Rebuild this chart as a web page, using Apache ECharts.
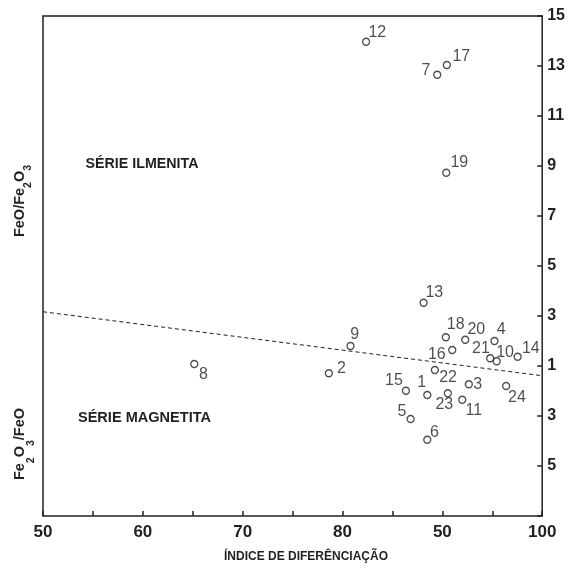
<!DOCTYPE html>
<html><head><meta charset="utf-8">
<script src="https://cdn.jsdelivr.net/npm/echarts@6/dist/echarts.min.js"></script>
<style>html,body{margin:0;padding:0;background:#fff}#c{width:568px;height:568px}</style>
</head><body><div id="c"></div>
<script>
// ---- data ----
const sampleIds = ['1','2','3','4','5','6','7','8','9','10','11','12','13','14','15','16','17','18','19','20','21','22','23','24'];
const diffIndex = [88.49,78.63,92.65,95.22,86.82,88.49,89.49,65.15,80.80,95.44,91.99,82.36,88.12,97.54,86.35,90.99,90.45,90.35,90.39,92.29,94.79,89.25,90.55,96.39];
// ratio value read on the diagram, and which ratio it is
const ironRatio = [2.16,1.29,1.73,2.00,3.12,3.95,12.65,1.08,1.80,1.19,2.35,13.97,3.53,1.37,1.99,1.64,13.04,2.15,8.73,2.05,1.31,1.16,2.09,1.80];
const ratioKind = ['M','M','M','I','M','M','I','I','I','I','M','I','I','I','M','I','I','I','I','I','I','M','M','M']; // I = FeO/Fe2O3, M = Fe2O3/FeO
const dividerX = [50, 100];
const dividerRatio = [3.17, 1.39];
const dividerKind = ['I', 'M'];
const xTickLabels = ['50','60','70','80','50','100'];
const yTickLabels = ['', '5','3','1','3','5','7','9','11','13','15'];

// ---- styling (not data) ----
const labelOffsets = [[-5.7,-12.5],[12.5,-4.5],[8.9,0],[6.8,-11.5],[-8.7,-7.8],[7.1,-7.2],[-11.2,-4.2],[9.3,10.5],[4.1,-11.2],[8.4,-9.1],[11.6,11.1],[11.2,-8.9],[10.7,-10.2],[13.2,-8.5],[-12,-9.9],[-15.4,5],[14.5,-8.8],[9.9,-13.1],[13.1,-9.9],[11.1,-9.7],[-9.2,-10.1],[13.2,7.5],[-3.5,11.5],[10.8,11.5]];
const INK = '#231f20';
const FONT = '"Liberation Sans", Arial, Helvetica, sans-serif';

// combined axis: FeO/Fe2O3 above 1, Fe2O3/FeO below 1
function toAxis(r, k) { return k === 'I' ? r - 1 : 1 - r; }

const scatterData = sampleIds.map((id, i) => ({
  name: id,
  value: [diffIndex[i], toAxis(ironRatio[i], ratioKind[i])],
  label: { offset: labelOffsets[i] }
}));
const lineData = dividerX.map((x, i) => [x, toAxis(dividerRatio[i], dividerKind[i])]);

const chart = echarts.init(document.getElementById('c'), null, { renderer: 'canvas' });
function titleRich(subDrop) {
  return {
    n: { fontSize: 14.5, fontWeight: 'bold', fontFamily: FONT, fill: INK, verticalAlign: 'top' },
    s: { fontSize: 10.5, fontWeight: 'bold', fontFamily: FONT, fill: INK, padding: [subDrop, 0, 0, 0], verticalAlign: 'top' }
  };
}
chart.setOption({
  animation: false,
  backgroundColor: '#fff',
  grid: { left: 43, right: 24, top: 16, bottom: 52, show: true, borderColor: INK, borderWidth: 1.5, backgroundColor: 'transparent' },
  xAxis: {
    type: 'value', min: 50, max: 100, interval: 5,
    axisLine: { show: false, onZero: false },
    axisTick: { show: true, inside: true, length: 5, lineStyle: { color: INK, width: 1.5 } },
    splitLine: { show: false },
    axisLabel: {
      color: INK, fontSize: 17, fontWeight: 'bold', fontFamily: FONT, margin: 8,
      showMinLabel: true, showMaxLabel: true,
      formatter: v => (Math.round(v) % 10 === 0 ? xTickLabels[Math.round((v - 50) / 10)] : '')
    }
  },
  yAxis: {
    type: 'value', position: 'right', min: -6, max: 14, interval: 2,
    axisLine: { show: false, onZero: false },
    axisTick: { show: true, inside: true, length: 5, lineStyle: { color: INK, width: 1.5 } },
    splitLine: { show: false },
    axisLabel: {
      color: INK, fontSize: 16, fontWeight: 'bold', fontFamily: FONT, margin: 5,
      showMinLabel: true, showMaxLabel: true,
      formatter: v => yTickLabels[Math.round((v + 6) / 2)]
    }
  },
  series: [
    {
      type: 'line', data: lineData, symbol: 'none', silent: true,
      lineStyle: { color: INK, width: 1, type: [4, 3] }
    },
    {
      type: 'scatter', data: scatterData, symbol: 'circle', symbolSize: 7,
      itemStyle: { color: '#fff', borderColor: INK, borderWidth: 1.3 },
      label: {
        show: true, position: 'inside', formatter: p => p.name,
        color: INK, fontSize: 16, fontFamily: FONT, align: 'center', verticalAlign: 'middle'
      }
    }
  ],
  graphic: [
    { type: 'text', x: 142, y: 164, style: { text: 'SÉRIE ILMENITA', fill: INK, font: 'bold 15px ' + FONT, align: 'center', verticalAlign: 'middle' }, scaleX: 0.95 },
    { type: 'text', x: 144.5, y: 418, style: { text: 'SÉRIE MAGNETITA', fill: INK, font: 'bold 15px ' + FONT, align: 'center', verticalAlign: 'middle' }, scaleX: 0.97 },
    { type: 'text', x: 306, y: 557, style: { text: 'ÍNDICE DE DIFERÊNCIAÇÃO', fill: INK, font: 'bold 12px ' + FONT, align: 'center', verticalAlign: 'middle' } },
    { type: 'text', x: 22.7, y: 201, rotation: Math.PI / 2, style: { text: '{n|FeO/Fe}{s|2}{n|O}{s|3}', rich: titleRich(10), align: 'center', verticalAlign: 'middle' } },
    { type: 'text', x: 24.2, y: 444, rotation: Math.PI / 2, style: { text: '{n|Fe}{s|2}{n|O}{s|3}{n|/FeO}', rich: titleRich(13), align: 'center', verticalAlign: 'middle' } }
  ]
});
</script>
</body></html>
